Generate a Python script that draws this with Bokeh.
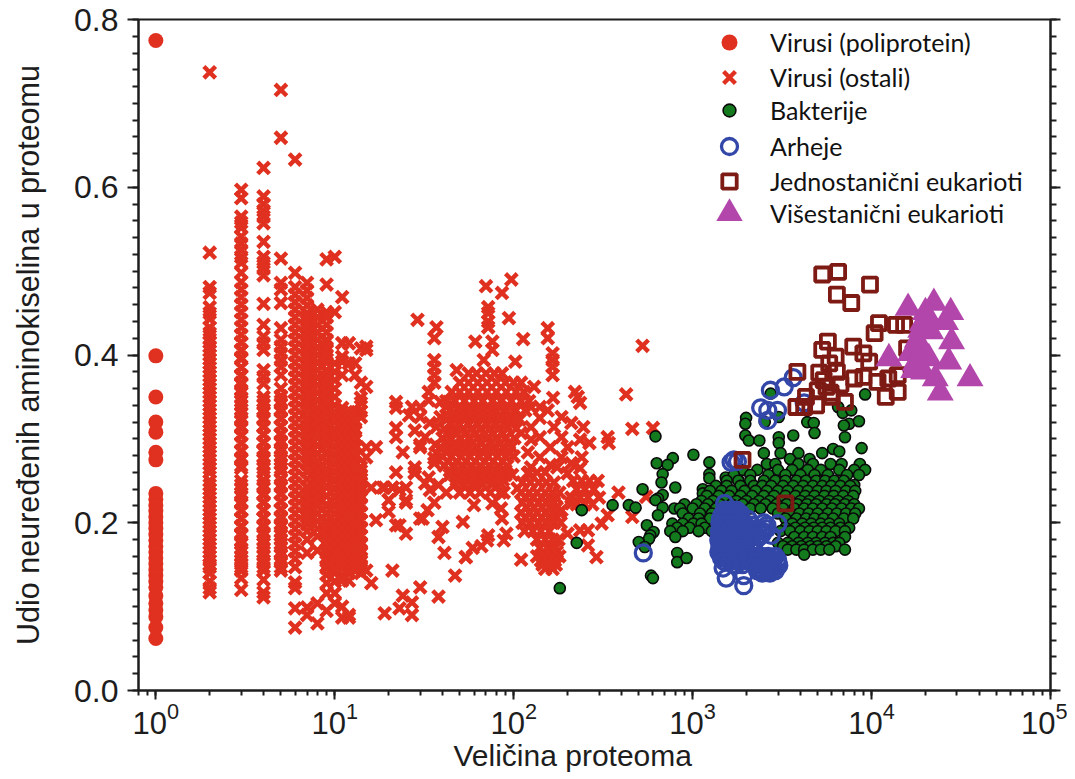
from bokeh.plotting import figure
from bokeh.models import (FixedTicker, LinearAxis, Legend, LegendItem, Range1d, LogTicker, Title)
from bokeh.embed import file_html
from bokeh.resources import INLINE

# ---------- data ----------
poly_y = [.775, .399, .35, .32, .308, .284, .275, .235, .228, .221, .214, .207, .2, .193, .186, .179,
          .172, .165, .158, .151, .144, .137, .13, .123, .113, .104, .096, .088, .075, .062]

col2 = [.737,.522,.481,.474,.457,.45,.443,.433,.426,.419,.41,.40,.39,.38,.37,.36,.35,.34,.33,.32,.31,.30,.29,.28,.27,.26,.25,.24,.23,.22,.21,.20,.19,.18,.17,.16,.15,.14,.13,.122,.117]
col3 = [.597,.587,.565,.558,.552,.541,.533,.525,.517,.51,.498,.487,.478,.469,.46,.451,.442,.433,.424,.415,.406,.397,.385,.376,.367,.358,.349,.34,.331,.322,.313,.304,.295,.286,.277,.268,.25,.241,.232,.223,.214,.205,.196,.187,.178,.169,.16,.151,.143,.134,.12]
col4 = [.623,.589,.58,.572,.565,.557,.535,.517,.51,.503,.495,.461,.436,.422,.414,.406,.382,.374,.366,.35,.341,.332,.323,.314,.305,.296,.287,.278,.269,.26,.251,.242,.233,.224,.215,.206,.197,.188,.179,.17,.161,.152,.143,.132,.117,.111]
col5 = [.716,.659,.515,.486,.478,.462,.432,.418,.41,.402,.394,.386,.376,.36,.351,.342,.333,.324,.315,.306,.297,.288,.279,.27,.261,.252,.243,.234,.225,.216,.207,.198,.189,.18,.171,.162,.153,.143]
col6 = [.633,.498,.481,.472,.463,.454,.445,.436,.427,.418,.409,.4,.391,.382,.373,.364,.355,.346,.337,.328,.319,.31,.301,.292,.283,.274,.265,.256,.247,.238,.229,.22,.211,.202,.193,.184,.175,.166,.157,.147,.129,.122,.098,.075]
col7 = [.486,.477,.468,.459,.45,.441,.432,.423,.414,.405,.396,.387,.378,.369,.36,.351,.342,.333,.324,.315,.306,.297,.288,.279,.27,.261,.252,.243,.234,.225,.216,.207,.198,.19,.18,.164,.099,.09]
col8 = [.454,.445,.436,.427,.418,.409,.4,.391,.382,.373,.364,.355,.346,.337,.328,.319,.31,.301,.292,.283,.274,.265,.256,.247,.238,.229,.22,.211,.202,.193,.184,.167,.104,.08]
col9 = [.514,.484,.451,.416,.405,.395,.38,.37,.36,.35,.34,.33,.318,.306,.296,.284,.274,.264,.254,.244,.232,.22,.21,.2,.188,.178,.168,.158,.148,.138,.128,.116,.095]
col10 = [.517,.451,.39,.38,.37,.36,.35,.34,.33,.32,.31,.3,.29,.28,.27,.26,.25,.24,.23,.22,.21,.2,.19,.18,.17,.16,.15,.14,.13,.116,.104]
col11 = [.469,.414,.398,.392,.376,.337,.327,.317,.307,.297,.287,.277,.267,.257,.247,.237,.227,.217,.207,.197,.187,.177,.167,.157,.147,.137,.131,.1,.087]
col12 = [.414,.39,.326,.316,.306,.296,.286,.276,.266,.256,.246,.236,.226,.216,.206,.196,.186,.176,.166,.156,.148,.14,.131,.09,.087]
col13 = [.39,.376,.319,.309,.299,.289,.279,.269,.259,.249,.239,.229,.219,.209,.199,.189,.179,.169,.159,.151,.143]
col14 = [.408,.367,.349,.333,.326,.266,.257,.248,.239,.23,.221,.212,.203,.194,.185,.176,.167,.158,.149,.14]

# extra readings packed between the marks of the solid columns
fill_hi = [.445,.436,.427,.418,.409,.4,.391,.382,.373,.364,.355,.346,.337]
fill_mid = [.332,.322,.312,.302,.292,.282,.272]
fill_low_a = [.262,.252,.242,.232,.222,.212,.202]
fill_low_b = [.194,.184,.174,.164,.154,.146]
fill_left_hi = [.415,.405,.395,.385,.375,.365,.355]
fill_left_lo = [.345,.335,.325,.315,.305,.295,.285,.275,.265,.245,.235,.225,.215,.205,.195,.185,.175,.165,.155,.147]

scatter_x = [15,15,15,15,15,15,16,16,17,17,14,21,21,22,22,22,22,22,24,22,28,18.5,21,25,25,20,19,23,24,27,27,30,38,47,54,41,38,40,52,25,23,20,31,
             97,70,86,72,72,72,72,94,29,37,36,61,113,155,155,165,165,165,165,76,76,68,102,36,36,36,36,48,130,166,220,235,228,425,525,460,600,335,340,
             27,30,33.5,33.5,39,26,30,34,39,28,32,37,30,37,28,36,42,28,33.5,30,36.5,36,32,34,36,33,30,42,38,19,23,20,25,
             54,59,71,66,72,88,91,110,60,86,85,76,
             140,125,155,185,140,168,210,125,110,140,125,185,245,235,265,200,160,120,140,185,240,210,160,125,120,175,235,200,105,88,
             185,210,200,235,310,335,260,260,290,385,550,460]
scatter_y = [.406,.41,.362,.29,.278,.143,.128,.242,.29,.203,.343,.143,.242,.344,.337,.313,.302,.26,.284,.197,.26,.242,.242,.242,.227,.227,.092,.098,.113,.105,.09,.123,.112,.137,.159,.164,.183,.195,.201,.187,.197,.213,.205,
             .49,.482,.474,.457,.45,.44,.433,.444,.442,.433,.42,.416,.419,.432,.42,.402,.394,.386,.376,.416,.406,.394,.392,.394,.385,.376,.367,.382,.362,.349,.356,.343,.35,.353,.411,.312,.313,.302,.295,
             .338,.338,.346,.356,.344,.328,.326,.319,.326,.31,.302,.314,.29,.283,.266,.271,.338,.259,.254,.293,.293,.277,.247,.239,.224,.215,.205,.236,.245,.242,.239,.227,.224,
             .159,.17,.179,.172,.185,.179,.187,.156,.221,.205,.217,.223,
             .338,.338,.334,.326,.325,.314,.319,.314,.307,.302,.299,.302,.314,.299,.295,.29,.29,.284,.278,.278,.278,.271,.269,.266,.259,.266,.265,.259,.241,.236,
             .215,.223,.187,.191,.199,.209,.191,.173,.159,.236,.231,.207]

blob_rows = [
    (.378, [56,62,70,78,86]),
    (.367, [50,56,63,71,80,90,100,110]),
    (.356, [45,50,56,63,71,80,91,103,114]),
    (.345, [42,47,53,60,67,76,85,97,110,122]),
    (.339, [50,57,64,72,82,93]),
    (.334, [44,50,56,63,71,80,91,103,116]),
    (.328, [47,53,60,67,76,85,96]),
    (.323, [42,47,53,60,67,76,85,97,108]),
    (.317, [45,50,56,63,71,80,90]),
    (.312, [41,46,52,58,65,73,82,92,103]),
    (.306, [43,48,54,61,69,77,87]),
    (.301, [40,44,50,56,63,71,80,90,101]),
    (.295, [42,47,53,59,66,74,84,94]),
    (.29,  [39,43,48,54,61,69,77,87,97]),
    (.284, [42,47,53,60,67,76,85,94]),
    (.279, [40,45,51,57,64,72,81,91,100]),
    (.273, [43,48,54,61,69,77,87]),
    (.268, [41,46,52,58,65,73,82,92]),
    (.262, [44,50,56,63,71,80,90]),
    (.257, [44,50,56,63,71,80,90,98]),
    (.251, [48,54,61,69,77,87]),
    (.246, [47,53,60,67,76,85]),
    (.236, [50,57,65,74,84]),
]
cluster_rows = [
    (.26,  [122,135,150]),
    (.248, [112,124,138,152,168]),
    (.236, [110,122,135,150,165,180]),
    (.23,  [116,128,143,158,172]),
    (.224, [112,124,138,152,168]),
    (.218, [118,130,144,160,174]),
    (.212, [110,122,135,150,165,180]),
    (.206, [116,128,143,158,172]),
    (.2,   [112,124,138,152,168,183]),
    (.19,  [115,128,142,158]),
    (.18,  [135,150,165,178]),
    (.17,  [140,155,170]),
    (.165, [148,162,174]),
    (.16,  [135,150,165,180]),
    (.155, [142,156,170]),
    (.15,  [145,160,172]),
    (.145, [150,165]),
    (.25,  [215,240,265,295]),
    (.24,  [225,250,280]),
    (.23,  [210,235,260,300]),
    (.222, [225,250,275]),
]

bact_x = [181,225,240,357,440,480,525,620,630,775,725,680,670,800,680,640,620,680,640,555,605,580,570,500,540,585,600,820,820,925,
          1010,1240,1240,1240,1140,1140,1530,1800,
          1990,1970,1970,2060,2360,2530,2730,3030,3030,3030,3650,4370,4750,4800,6500,6900,7700,7500,7000,8500,9200,7100,6100,6600,8800]
bact_y = [.122,.176,.215,.221,.221,.218,.24,.303,.271,.277,.269,.258,.248,.242,.233,.229,.227,.218,.209,.197,.189,.185,.181,.177,.171,.137,.134,.164,.153,.158,
          .281,.272,.258,.253,.24,.235,.254,.251,
          .325,.318,.304,.298,.298,.32,.354,.326,.302,.295,.304,.32,.319,.307,.338,.331,.334,.318,.316,.321,.353,.302,.288,.285,.289]
bact_rows = [
    (.283, [2500,3100,3900,5300]),
    (.276, [3500,4500]),
    (.27,  [2600,2900,3900,4700,5900,6800,8600]),
    (.263, [1900,2300,3000,3600,4400,5200,6600,8000,9200]),
    (.257, [1700,2100,2650,3300,4000,4800,5700,7300,8500]),
    (.25,  [1550,1800,2100,2500,2900,3300,3800,4300,4900,5500,6200,7000]),
    (.245, [8000]),
    (.244, [1350,1550,1850,2200,2450,2750,3200,3650,4150,4700,5300,5950,6700,7600]),
    (.238, [1250,1450,1650,1950,2250,2600,3000,3400,3900,4400,5000,5600,6300,7200,8100]),
    (.232, [1200,1400,1600,1850,2150,2500,2850,3300,3750,4250,4800,5450,6150,6950,7900]),
    (.226, [1120,1300,1500,1750,2000,2350,2700,3100,3500,4000,4500,5100,5800,6500,7400]),
    (.222, [900,1050,1220,1420,1650,1900,2200,2550,2950,3350,3850,4350,4900,5600,6250,7100,8000]),
    (.217, [790,850,1000,1170,1350,1550,1800,2100,2400,2800,3200,3700,4200,4700,5300,6000,6800,7700,8500]),
    (.211, [880,1100,1280,1480,1700,3000,3500,3950,4450,5000,5700,6400,7200,8100]),
    (.205, [950,1080,1250,1450,1650,3300,3800,4300,4800,5400,6100,7000,7900]),
    (.199, [770,880,1010,1120,3600,4100,4600,5200,5800,6600]),
    (.194, [820,960,1170,1350,3300,3750,4250,4750,5300,5900,6700,7500]),
    (.19,  [750,880,1080,1280,3100,3500,4000,4500,5000,5600,6300,7100]),
    (.183, [800,3700,4200,4700,5300,5900,7100]),
    (.176, [3000,3400,3900,4400,4900,5500,6100,6600]),
    (.172, [3200,3600,4050,4550,5000,5600,6300]),
    (.168, [3400,3800,4200,4700,5200,5800,7100]),
    (.162, [4200]),
]

arch_x = [530,1700,1640,1780,2720,3250,3650,2400,2630,2980,2630,4200,1510,1480,1540,1930,1930,3000,2750]
arch_y = [.164,.275,.272,.273,.358,.362,.373,.337,.334,.334,.322,.343,.223,.146,.134,.125,.137,.199,.185]
arch_rows = [
    (.215, [1520,1640,1760]),
    (.211, [1480,1600,1720,1850]),
    (.208, [1450,1560,1690,1820]),
    (.204, [1430,1520,1630,1750,1880,2050]),
    (.2,   [1420,1530,1650,1780,1920,2500]),
    (.197, [1450,1570,1700,1830,1980,2150,2600]),
    (.193, [1480,1600,1730,1870,2020,2300,2600]),
    (.19,  [1410,1510,1630,1760,1900,2060,2200,2450]),
    (.186, [1420,1530,1660,1790,1940,2100,2450]),
    (.183, [1440,1560,1690,1830,1980,2150,2350]),
    (.179, [1400,1480,1600,1730,1870,2020,2250]),
    (.176, [1430,1540,1660,1800,1950,2130]),
    (.172, [1420,1530,1660,1790,1940,2100]),
    (.169, [1450,1570,1700,1830,1980]),
    (.165, [1400,1480,1600,1730,1870,2020]),
    (.162, [1430,1530,1650,1790,1930,2050]),
    (.158, [1450,1550,1680,1810,1950]),
    (.154, [1500,1620,1760,1880]),
    (.15,  [1750,1900]),
    (.16,  [2450,2650,2900]),
    (.156, [2380,2560,2780,2980]),
    (.153, [2300,2500,2750,3000]),
    (.149, [2400,2600,2820,3030]),
    (.146, [2350,2600,2850]),
    (.143, [2300,2480,2680,2900]),
    (.14,  [2450,2700]),
]

uni_x = [5300,6500,9800,6400,7700,11000,10400,13700,15200,5700,5300,7900,9000,15800,3850,6300,5800,9700,5100,6400,8000,14000,9000,10800,12400,5000,5600,5900,14000,12000,7100,4900,4300,3800,4200,1900,3300,6700,5400,6000]
uni_y = [.496,.499,.484,.472,.462,.438,.426,.436,.436,.416,.406,.41,.402,.408,.38,.398,.39,.392,.379,.38,.372,.376,.374,.368,.372,.358,.362,.355,.356,.35,.344,.34,.35,.338,.338,.275,.223,.365,.37,.35]

multi_x = [16000,20000,22300,27700,25900,19200,21400,28000,12500,16500,18700,20900,27000,17200,19500,22700,35500,24200,18000,18800,17500,20500]
multi_y = [.456,.451,.462,.451,.439,.438,.428,.416,.396,.402,.402,.396,.392,.382,.38,.372,.372,.355,.418,.43,.39,.445]

legend_labels = ["Virusi (poliprotein)", "Virusi (ostali)", "Bakterije", "Arheje",
                 "Jednostanični eukarioti", "Višestanični eukarioti"]
x_title = "Veličina proteoma"
y_title = "Udio neuređenih aminokiselina u proteomu"
y_major = [0.0, 0.2, 0.4, 0.6, 0.8]

# ---------- assemble ----------
RED, GREEN, BLUE, BROWN, PURPLE = "#e0301f", "#137a1e", "#3347a8", "#7e1a14", "#b246ab"
INK = "#1d1d1d"

vx, vy = [], []
for xv, ys in zip(range(2, 15), [col2, col3, col4, col5, col6, col7, col8, col9, col10, col11, col12, col13, col14]):
    vx += [xv] * len(ys)
    vy += ys
for xv in (2, 3):
    vx += [xv] * len(fill_left_hi)
    vy += fill_left_hi
for xv in (2, 3, 4, 5):
    vx += [xv] * len(fill_left_lo)
    vy += fill_left_lo
for xv in (7, 8, 9):
    vx += [xv] * len(fill_hi)
    vy += fill_hi
for xv in range(7, 14):
    vx += [xv] * len(fill_mid)
    vy += fill_mid
for xv in range(7, 15):
    vx += [xv] * len(fill_low_a)
    vy += fill_low_a
for xv in range(9, 15):
    vx += [xv] * len(fill_low_b)
    vy += fill_low_b
vx += scatter_x
vy += scatter_y
for rows_ in (blob_rows, cluster_rows):
    for yv, xs in rows_:
        vx += xs
        vy += [yv] * len(xs)

bx, by = list(bact_x), list(bact_y)
for yv, xs in bact_rows:
    bx += xs
    by += [yv] * len(xs)
ax, ay = list(arch_x), list(arch_y)
for yv, xs in arch_rows:
    ax += xs
    ay += [yv] * len(xs)

FRAME_L, FRAME_T, FRAME_W, FRAME_H = 138, 19, 912, 671
p = figure(x_axis_type="log", x_range=Range1d(0.8, 100000), y_range=Range1d(0, 0.8),
           frame_width=FRAME_W, frame_height=FRAME_H, width=1067, height=778,
           min_border_left=FRAME_L, min_border_top=FRAME_T, min_border_right=17, min_border_bottom=88,
           output_backend="svg", toolbar_location=None, background_fill_color="white")
p.xgrid.visible = False
p.ygrid.visible = False
p.outline_line_color = INK
p.outline_line_width = 2

r_poly = p.scatter([1] * len(poly_y), poly_y, marker="circle", size=15, color=RED, line_width=0)
r_virus = p.scatter(vx, vy, marker="x", size=16.5, line_color=RED, line_width=4.4)
r_bact = p.scatter(bx, by, marker="circle", size=11, fill_color=GREEN, line_color="#0a0a0a", line_width=1.6)
r_arch = p.scatter(ax, ay, marker="circle", size=16, fill_color=None, line_color=BLUE, line_width=3.3)
r_uni = p.scatter(uni_x, uni_y, marker="square", size=14, fill_color=None, line_color=BROWN, line_width=3.8)
r_multi = p.scatter(multi_x, multi_y, marker="triangle", size=27, color=PURPLE, line_width=0)

# axes
xa = p.xaxis[0]
xa.ticker = LogTicker(num_minor_ticks=10)
xa.major_label_text_font = "Liberation Sans"
xa.major_label_text_font_size = "31px"
xa.major_label_text_color = INK
xa.major_label_standoff = 2
xa.major_tick_out, xa.major_tick_in = 9, 0
xa.minor_tick_out, xa.minor_tick_in = 5, 0
xa.axis_line_width = xa.major_tick_line_width = xa.minor_tick_line_width = 2
xa.axis_line_color = xa.major_tick_line_color = xa.minor_tick_line_color = INK

# The x title sits left of the frame's centre in the reference, so it is a left-aligned
# title below the axis with an offset from the frame's left edge.
p.add_layout(Title(text=x_title, align="left", offset=315, standoff=0,
                   text_font="Liberation Sans", text_font_size="30px",
                   text_font_style="normal", text_color=INK), "below")

ya = p.yaxis[0]
y_minor = [v / 100 for v in range(0, 81, 2)]
ya.ticker = FixedTicker(ticks=y_major, minor_ticks=y_minor)
ya.major_label_overrides = {v: f"{v:.1f}" for v in y_major}
ya.axis_label = y_title
ya.axis_label_text_font = "Liberation Sans"
ya.axis_label_text_font_size = "30.5px"
ya.axis_label_text_font_style = "normal"
ya.axis_label_text_color = INK
ya.axis_label_standoff = 26
ya.major_label_text_font = "Liberation Sans"
ya.major_label_text_font_size = "32px"
ya.major_label_text_color = INK
ya.major_label_standoff = 9
ya.major_tick_out, ya.major_tick_in = 11, 0
ya.minor_tick_out, ya.minor_tick_in = 6, 0
ya.axis_line_width = ya.major_tick_line_width = ya.minor_tick_line_width = 2
ya.axis_line_color = ya.major_tick_line_color = ya.minor_tick_line_color = INK

ra = LinearAxis(ticker=FixedTicker(ticks=y_major, minor_ticks=y_minor),
                major_label_overrides={v: "" for v in y_major})
ra.major_tick_out, ra.major_tick_in = 10, 0
ra.minor_tick_out, ra.minor_tick_in = 6, 0
ra.axis_line_width = ra.major_tick_line_width = ra.minor_tick_line_width = 2
ra.axis_line_color = ra.major_tick_line_color = ra.minor_tick_line_color = INK
p.add_layout(ra, "right")

# One single-item legend per row: Bokeh draws a legend marker at 0.4 x its glyph box,
# so each box is sized to give that row's marker the reference's size.
GLYPH_CX, TEXT_X = 729, 770
legend_rows = [(legend_labels[0], r_poly, 40, 42),
               (legend_labels[1], r_virus, 42, 77),
               (legend_labels[2], r_bact, 32, 110),
               (legend_labels[3], r_arch, 40, 146),
               (legend_labels[4], r_uni, 36, 181),
               (legend_labels[5], r_multi, 66, 213)]
for label, rend, box, cy in legend_rows:
    lg = Legend(items=[LegendItem(label=label, renderers=[rend])],
                location=(GLYPH_CX - FRAME_L - box // 2, FRAME_T + FRAME_H - cy - box // 2),
                background_fill_alpha=0, border_line_alpha=0, padding=0, margin=0,
                glyph_width=box, glyph_height=box, label_height=20,
                label_standoff=TEXT_X - GLYPH_CX - box // 2,
                label_text_font="Lato", label_text_font_size="25px", label_text_color="#111111")
    p.add_layout(lg, "center")

open("out.html", "w").write(file_html(p, INLINE))
